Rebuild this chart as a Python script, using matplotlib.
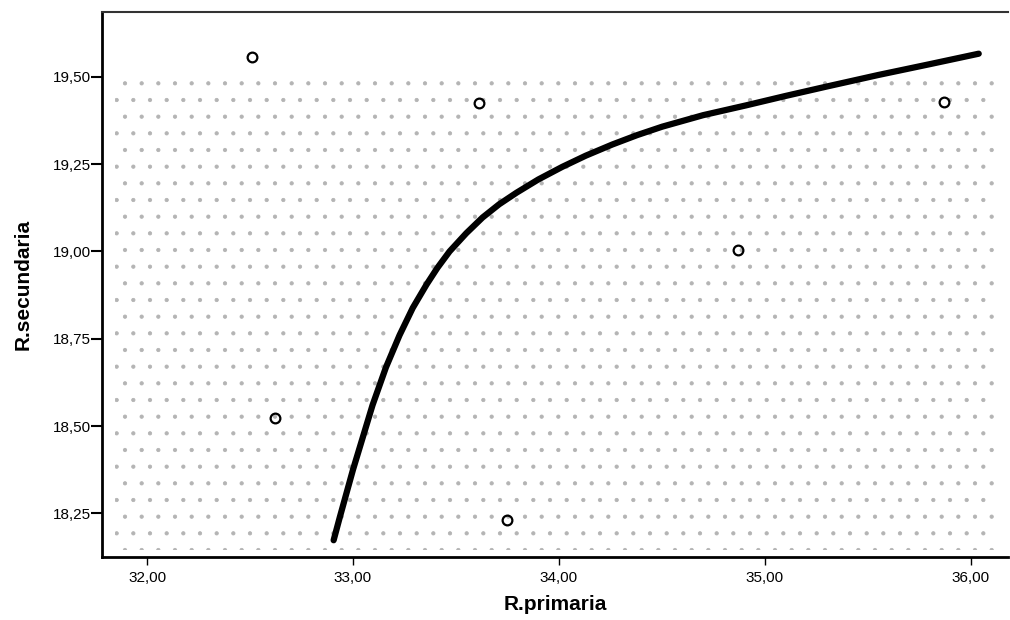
import matplotlib
matplotlib.use("Agg")
import matplotlib.pyplot as plt
from matplotlib.patches import Rectangle
from matplotlib.ticker import FuncFormatter

# observed cases
primaria = [32.51, 33.61, 35.87, 34.87, 32.62, 33.75]
secundaria = [19.557, 19.425, 19.428, 19.004, 18.523, 18.231]

# fitted curve
curve_x = [32.906, 32.936, 33.000, 33.095, 33.160, 33.226, 33.290, 33.357,
           33.410, 33.469, 33.550, 33.629, 33.710, 33.794, 33.900, 34.016,
           34.130, 34.259, 34.380, 34.501, 34.700, 34.908, 35.100, 35.300,
           35.550, 35.800, 36.038]
curve_y = [18.173, 18.239, 18.375, 18.560, 18.668, 18.760, 18.838, 18.905,
           18.953, 19.000, 19.052, 19.097, 19.135, 19.168, 19.206, 19.242,
           19.274, 19.306, 19.333, 19.357, 19.390, 19.418, 19.445, 19.472,
           19.505, 19.536, 19.566]

x_ticks = [32, 33, 34, 35, 36]
y_ticks = [18.25, 18.50, 18.75, 19.00, 19.25, 19.50]

plt.rcParams['font.family'] = ['Liberation Sans', 'DejaVu Sans']
plt.rcParams['hatch.linewidth'] = 0.6


def comma(v, pos):
    return f"{v:.2f}".replace('.', ',')


fig = plt.figure(figsize=(10.1, 6.2), dpi=100)
ax = fig.add_axes([0.1007, 0.1016, 0.8973, 0.8794])

# dithered grey fill of the scanned plot area
ax.add_patch(Rectangle((0.015, 0.012), 0.97, 0.862, transform=ax.transAxes,
                       facecolor='none', edgecolor='#b4b4b4', linewidth=0,
                       hatch='.', zorder=0))

ax.plot(curve_x, curve_y, color='black', linewidth=4.5,
        solid_capstyle='round', solid_joinstyle='round', zorder=3)
ax.plot(primaria, secundaria, linestyle='none', marker='o', markersize=7,
        markerfacecolor='none', markeredgecolor='black', markeredgewidth=1.6,
        zorder=4)

ax.set_xlim(31.78, 36.18)
ax.set_ylim(18.125, 19.686)
ax.set_xticks(x_ticks)
ax.set_yticks(y_ticks)
ax.xaxis.set_major_formatter(FuncFormatter(comma))
ax.yaxis.set_major_formatter(FuncFormatter(comma))

ax.tick_params(axis='y', direction='out', length=8, width=1.5, pad=0,
               labelsize=11)
ax.tick_params(axis='x', direction='out', length=6, width=1.0, pad=4,
               labelsize=11)

ax.spines['right'].set_visible(False)
ax.spines['top'].set_linewidth(1.5)
ax.spines['top'].set_color('#333333')
ax.spines['left'].set_linewidth(2)
ax.spines['bottom'].set_linewidth(2)

ax.set_xlabel('R.primaria', fontsize=15, fontweight='bold', labelpad=7)
ax.set_ylabel('R.secundaria', fontsize=15, fontweight='bold', labelpad=14)

fig.savefig('out.png', dpi=100)
